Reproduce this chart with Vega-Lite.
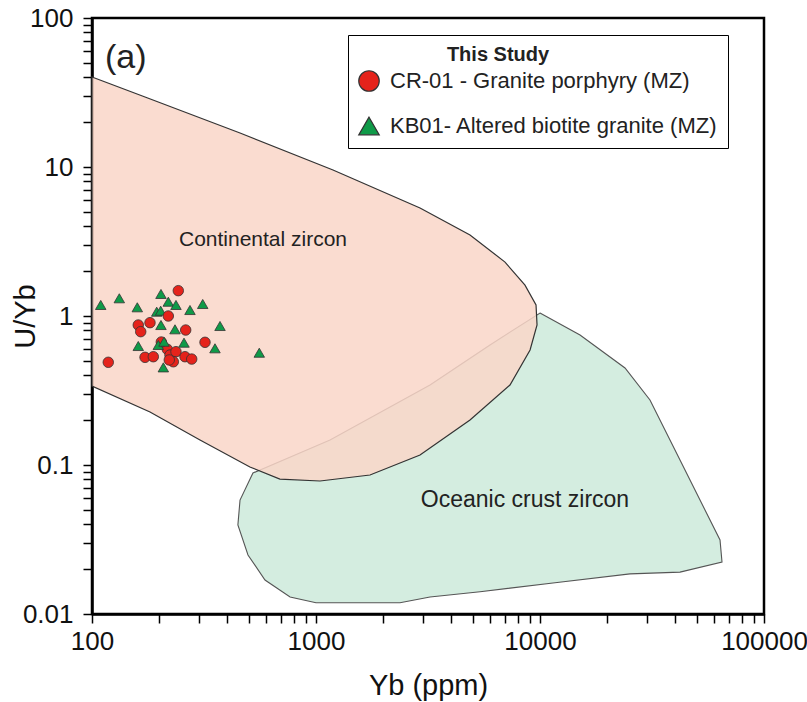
{
  "$schema": "https://vega.github.io/schema/vega-lite/v6.json",
  "width": 672,
  "height": 596,
  "autosize": {"type": "none"},
  "padding": {"left": 92, "top": 18, "right": 43, "bottom": 88},
  "background": "white",
  "config": {
    "font": "Liberation Sans",
    "view": {"stroke": "black", "strokeWidth": 2.5},
    "axis": {
      "grid": false,
      "domainColor": "black",
      "domainWidth": 2.5,
      "tickColor": "black",
      "tickWidth": 1.5,
      "ticks": true,
      "labelColor": "#111",
      "titleColor": "#111",
      "labelFontSize": 26,
      "titleFontSize": 29,
      "titleFontWeight": "normal",
      "labelFont": "Liberation Sans",
      "titleFont": "Liberation Sans",
      "labelOverlap": false,
      "labelFlush": false,
      "zindex": 1
    }
  },
  "datasets": {
    "oceanic": [
      {"i": 1, "yb": 10000, "uyb": 1.047},
      {"i": 2, "yb": 15090, "uyb": 0.746},
      {"i": 3, "yb": 23960, "uyb": 0.448},
      {"i": 4, "yb": 30970, "uyb": 0.273},
      {"i": 5, "yb": 42170, "uyb": 0.108},
      {"i": 6, "yb": 54530, "uyb": 0.0499},
      {"i": 7, "yb": 63630, "uyb": 0.0314},
      {"i": 8, "yb": 64940, "uyb": 0.0223},
      {"i": 9, "yb": 42170, "uyb": 0.0191},
      {"i": 10, "yb": 25220, "uyb": 0.0186},
      {"i": 11, "yb": 11670, "uyb": 0.0162},
      {"i": 12, "yb": 5400, "uyb": 0.0141},
      {"i": 13, "yb": 3228, "uyb": 0.013},
      {"i": 14, "yb": 2371, "uyb": 0.0119},
      {"i": 15, "yb": 1000, "uyb": 0.0119},
      {"i": 16, "yb": 766, "uyb": 0.013},
      {"i": 17, "yb": 592, "uyb": 0.0169},
      {"i": 18, "yb": 497, "uyb": 0.0249},
      {"i": 19, "yb": 448, "uyb": 0.0396},
      {"i": 20, "yb": 458, "uyb": 0.0582},
      {"i": 21, "yb": 523, "uyb": 0.0884},
      {"i": 22, "yb": 1155, "uyb": 0.147},
      {"i": 23, "yb": 3228, "uyb": 0.344},
      {"i": 24, "yb": 5980, "uyb": 0.639}
    ],
    "continental": [
      {"i": 1, "yb": 100, "uyb": 40.2},
      {"i": 2, "yb": 172.5, "uyb": 29.5},
      {"i": 3, "yb": 458, "uyb": 16.9},
      {"i": 4, "yb": 1191, "uyb": 9.55},
      {"i": 5, "yb": 2913, "uyb": 5.31},
      {"i": 6, "yb": 4870, "uyb": 3.5},
      {"i": 7, "yb": 6980, "uyb": 2.3},
      {"i": 8, "yb": 8570, "uyb": 1.61},
      {"i": 9, "yb": 9600, "uyb": 1.186},
      {"i": 10, "yb": 9700, "uyb": 0.87},
      {"i": 11, "yb": 9030, "uyb": 0.591},
      {"i": 12, "yb": 7345, "uyb": 0.344},
      {"i": 13, "yb": 4870, "uyb": 0.2005},
      {"i": 14, "yb": 2913, "uyb": 0.1167},
      {"i": 15, "yb": 1742, "uyb": 0.0857},
      {"i": 16, "yb": 1042, "uyb": 0.0781},
      {"i": 17, "yb": 690, "uyb": 0.0805},
      {"i": 18, "yb": 507, "uyb": 0.097},
      {"i": 19, "yb": 303.5, "uyb": 0.147},
      {"i": 20, "yb": 181.5, "uyb": 0.227},
      {"i": 21, "yb": 100, "uyb": 0.339}
    ],
    "points": [
      {"sample": "KB01- Altered biotite granite (MZ)", "yb": 109.4, "uyb": 1.186},
      {"sample": "KB01- Altered biotite granite (MZ)", "yb": 132.4, "uyb": 1.315},
      {"sample": "KB01- Altered biotite granite (MZ)", "yb": 159.3, "uyb": 1.144},
      {"sample": "KB01- Altered biotite granite (MZ)", "yb": 203.2, "uyb": 1.406},
      {"sample": "KB01- Altered biotite granite (MZ)", "yb": 219.1, "uyb": 1.247},
      {"sample": "KB01- Altered biotite granite (MZ)", "yb": 237.1, "uyb": 1.186},
      {"sample": "KB01- Altered biotite granite (MZ)", "yb": 273.8, "uyb": 1.097},
      {"sample": "KB01- Altered biotite granite (MZ)", "yb": 312.1, "uyb": 1.204},
      {"sample": "KB01- Altered biotite granite (MZ)", "yb": 194.5, "uyb": 1.069},
      {"sample": "KB01- Altered biotite granite (MZ)", "yb": 202.6, "uyb": 1.085},
      {"sample": "KB01- Altered biotite granite (MZ)", "yb": 203.2, "uyb": 0.87},
      {"sample": "KB01- Altered biotite granite (MZ)", "yb": 234.7, "uyb": 0.814},
      {"sample": "KB01- Altered biotite granite (MZ)", "yb": 372.8, "uyb": 0.857},
      {"sample": "CR-01 - Granite porphyry (MZ)", "yb": 242.8, "uyb": 1.479},
      {"sample": "CR-01 - Granite porphyry (MZ)", "yb": 219.1, "uyb": 1.0},
      {"sample": "CR-01 - Granite porphyry (MZ)", "yb": 160.9, "uyb": 0.87},
      {"sample": "CR-01 - Granite porphyry (MZ)", "yb": 181.5, "uyb": 0.902},
      {"sample": "CR-01 - Granite porphyry (MZ)", "yb": 165.0, "uyb": 0.785},
      {"sample": "CR-01 - Granite porphyry (MZ)", "yb": 262.0, "uyb": 0.805},
      {"sample": "CR-01 - Granite porphyry (MZ)", "yb": 319.5, "uyb": 0.666},
      {"sample": "CR-01 - Granite porphyry (MZ)", "yb": 216.9, "uyb": 0.598},
      {"sample": "CR-01 - Granite porphyry (MZ)", "yb": 172.5, "uyb": 0.528},
      {"sample": "CR-01 - Granite porphyry (MZ)", "yb": 187.8, "uyb": 0.533},
      {"sample": "CR-01 - Granite porphyry (MZ)", "yb": 222.9, "uyb": 0.547},
      {"sample": "CR-01 - Granite porphyry (MZ)", "yb": 237.1, "uyb": 0.576},
      {"sample": "CR-01 - Granite porphyry (MZ)", "yb": 260.1, "uyb": 0.533},
      {"sample": "CR-01 - Granite porphyry (MZ)", "yb": 278.7, "uyb": 0.514},
      {"sample": "CR-01 - Granite porphyry (MZ)", "yb": 230.7, "uyb": 0.493},
      {"sample": "CR-01 - Granite porphyry (MZ)", "yb": 118.2, "uyb": 0.489},
      {"sample": "CR-01 - Granite porphyry (MZ)", "yb": 203.9, "uyb": 0.669},
      {"sample": "CR-01 - Granite porphyry (MZ)", "yb": 221.3, "uyb": 0.507},
      {"sample": "KB01- Altered biotite granite (MZ)", "yb": 160.9, "uyb": 0.629},
      {"sample": "KB01- Altered biotite granite (MZ)", "yb": 197.7, "uyb": 0.639},
      {"sample": "KB01- Altered biotite granite (MZ)", "yb": 209.7, "uyb": 0.672},
      {"sample": "KB01- Altered biotite granite (MZ)", "yb": 257.5, "uyb": 0.662},
      {"sample": "KB01- Altered biotite granite (MZ)", "yb": 354.0, "uyb": 0.607},
      {"sample": "KB01- Altered biotite granite (MZ)", "yb": 558.2, "uyb": 0.567},
      {"sample": "KB01- Altered biotite granite (MZ)", "yb": 208.2, "uyb": 0.452}
    ]
  },
  "encoding": {
    "x": {
      "field": "yb",
      "type": "quantitative",
      "scale": {"type": "log", "domain": [100, 100000]},
      "axis": {
        "title": "Yb (ppm)",
        "values": [100, 200, 300, 400, 500, 600, 700, 800, 900, 1000, 2000, 3000, 4000, 5000, 6000, 7000, 8000, 9000, 10000, 20000, 30000, 40000, 50000, 60000, 70000, 80000, 90000, 100000],
        "labelExpr": "indexof([100, 1000, 10000, 100000], datum.value) >= 0 ? format(datum.value, 'd') : ''",
        "tickSize": 9,
        "labelPadding": 5,
        "titleY": 71,
        "titleBaseline": "middle",
        "encode": {"ticks": {"update": {"y2": {"signal": "indexof([100, 1000, 10000, 100000], datum.value) >= 0 ? -13 : -9"}}}}
      }
    },
    "y": {
      "field": "uyb",
      "type": "quantitative",
      "scale": {"type": "log", "domain": [0.01, 100]},
      "axis": {
        "title": "U/Yb",
        "values": [0.01, 0.02, 0.03, 0.04, 0.05, 0.06, 0.07, 0.08, 0.09, 0.1, 0.2, 0.3, 0.4, 0.5, 0.6, 0.7, 0.8, 0.9, 1, 2, 3, 4, 5, 6, 7, 8, 9, 10, 20, 30, 40, 50, 60, 70, 80, 90, 100],
        "labelExpr": "indexof([0.01, 0.1, 1, 10, 100], datum.value) >= 0 ? format(datum.value, '~g') : ''",
        "tickSize": 9,
        "labelPadding": 10,
        "titleX": -67,
        "titleBaseline": "middle",
        "encode": {"ticks": {"update": {"x2": {"signal": "indexof([0.01, 0.1, 1, 10, 100], datum.value) >= 0 ? 13 : 9"}}}}
      }
    }
  },
  "layer": [
    {
      "data": {"name": "oceanic"},
      "mark": {"type": "line", "interpolate": "linear-closed", "fill": "#d4ede0", "stroke": "#555555", "strokeWidth": 1.1},
      "encoding": {"order": {"field": "i", "type": "quantitative"}}
    },
    {
      "data": {"name": "continental"},
      "mark": {"type": "line", "interpolate": "linear-closed", "fill": "#f9d6c8", "fillOpacity": 0.85, "stroke": "#333333", "strokeWidth": 1.2},
      "encoding": {"order": {"field": "i", "type": "quantitative"}}
    },
    {
      "data": {"name": "points"},
      "mark": {"type": "point", "filled": true, "size": 110, "opacity": 1, "stroke": "#333333", "strokeWidth": 0.8},
      "encoding": {
        "color": {
          "field": "sample",
          "type": "nominal",
          "scale": {"domain": ["CR-01 - Granite porphyry (MZ)", "KB01- Altered biotite granite (MZ)"], "range": ["#e5231b", "#0f9a48"]},
          "legend": {
            "title": "This Study",
            "orient": "none",
            "legendX": 256,
            "legendY": 17,
            "titleAnchor": "middle",
            "titleFont": "Liberation Sans",
            "titleFontSize": 20,
            "titleFontWeight": "bold",
            "titleColor": "#222222",
            "titlePadding": 5,
            "labelFont": "Liberation Sans",
            "labelFontSize": 22,
            "labelColor": "#222222",
            "labelOffset": 10,
            "labelLimit": 500,
            "symbolSize": 420,
            "symbolStrokeColor": "#333333",
            "symbolStrokeWidth": 1.2,
            "symbolOpacity": 1,
            "rowPadding": 20,
            "padding": 10,
            "strokeColor": "black",
            "fillColor": "white",
            "encode": {"title": {"update": {"dx": {"value": -40}}}}
          }
        },
        "shape": {
          "field": "sample",
          "type": "nominal",
          "scale": {"domain": ["CR-01 - Granite porphyry (MZ)", "KB01- Altered biotite granite (MZ)"], "range": ["circle", "triangle-up"]}
        }
      }
    },
    {
      "data": {"values": [{"label": "(a)", "yb": 114.3, "uyb": 53.9}]},
      "mark": {"type": "text", "align": "left", "baseline": "middle", "fontSize": 34, "font": "Liberation Sans", "color": "#222222"},
      "encoding": {"text": {"field": "label", "type": "nominal"}}
    },
    {
      "data": {"values": [{"label": "Continental zircon", "yb": 580, "uyb": 3.24}]},
      "mark": {"type": "text", "align": "center", "baseline": "middle", "fontSize": 21, "font": "Liberation Sans", "color": "#222222"},
      "encoding": {"text": {"field": "label", "type": "nominal"}}
    },
    {
      "data": {"values": [{"label": "Oceanic crust zircon", "yb": 8570, "uyb": 0.0582}]},
      "mark": {"type": "text", "align": "center", "baseline": "middle", "fontSize": 23, "font": "Liberation Sans", "color": "#222222"},
      "encoding": {"text": {"field": "label", "type": "nominal"}}
    }
  ]
}
